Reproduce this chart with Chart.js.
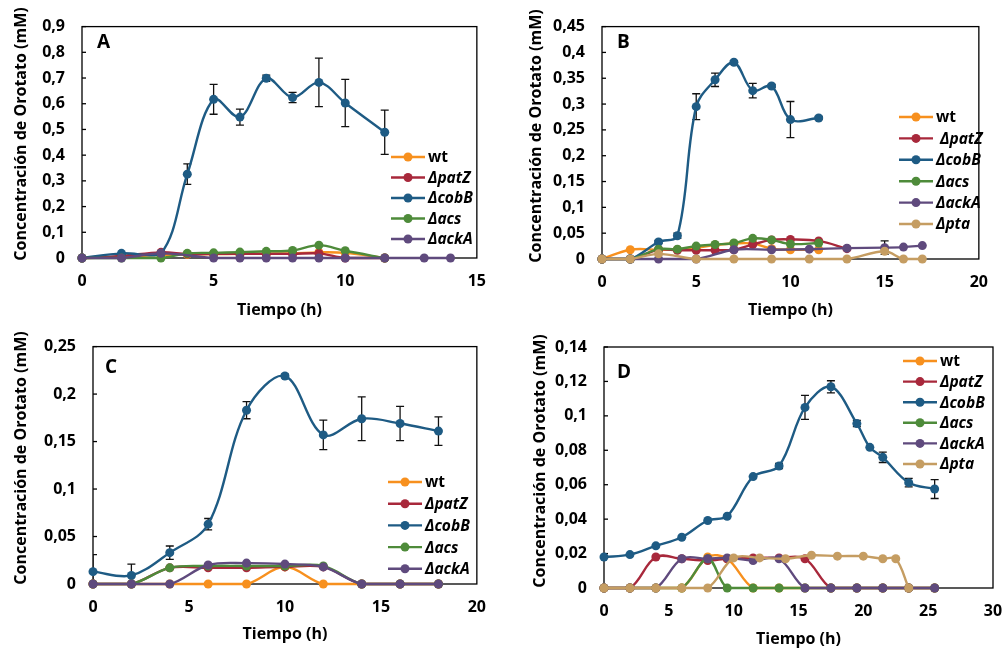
<!DOCTYPE html>
<html>
<head>
<meta charset="utf-8">
<script src="https://cdn.jsdelivr.net/npm/chart.js@4.4.0/dist/chart.umd.min.js"></script>
<style>
  html, body { margin: 0; padding: 0; background: #fff; }
  #wrap { position: relative; width: 1002px; height: 653px; overflow: hidden; }
  .panel { position: absolute; overflow: hidden; }
</style>
</head>
<body>
<div id="wrap">
  <div class="panel" style="left:0;top:0;width:500px;height:320px"><canvas id="chartA" width="500" height="320"></canvas></div>
  <div class="panel" style="left:500px;top:0;width:502px;height:320px"><canvas id="chartB" width="502" height="320"></canvas></div>
  <div class="panel" style="left:0;top:320px;width:500px;height:333px"><canvas id="chartC" width="500" height="333"></canvas></div>
  <div class="panel" style="left:500px;top:320px;width:502px;height:333px"><canvas id="chartD" width="520" height="333"></canvas></div>
</div>
<script>
// ---- Panel A ----
const tA = [0, 1.5, 3, 4, 5, 6, 7, 8, 9, 10, 11.5];
const tA_ackA = [0, 1.5, 3, 5, 6, 7, 8, 9, 10, 11.5, 13, 14];
const wtA = [0, 0.004, 0.012, 0.014, 0.015, 0.016, 0.017, 0.018, 0.022, 0.02, 0];
const patZA = [0, 0.008, 0.022, 0.016, 0.016, 0.016, 0.016, 0.016, 0.018, 0, 0];
const cobBA = [0, 0.018, 0.018, 0.326, 0.617, 0.548, 0.699, 0.624, 0.683, 0.603, 0.489];
const cobBA_err = [0, 0, 0, 0.04, 0.058, 0.031, 0.012, 0.02, 0.094, 0.092, 0.086];
const acsA = [0, 0, 0, 0.018, 0.02, 0.023, 0.026, 0.029, 0.05, 0.028, 0];
const ackAA = [0, 0, 0.018, 0, 0, 0, 0, 0, 0, 0, 0, 0];

// ---- Panel B ----
const tB = [0, 1.5, 3, 4, 5, 6, 7, 8, 9, 10, 11.5];
const tB_patZ = [0, 1.5, 3, 4, 5, 6, 7, 8, 9, 10, 11.5, 13];
const tB_late = [0, 1.5, 3, 5, 7, 9, 11, 13, 15, 16, 17];
const wtB = [0, 0.018, 0.018, 0.018, 0.022, 0.027, 0.03, 0.03, 0.02, 0.018, 0.018];
const patZB = [0, 0, 0.018, 0.017, 0.017, 0.017, 0.018, 0.028, 0.037, 0.038, 0.035, 0.02];
const cobBB = [0, 0, 0.033, 0.045, 0.295, 0.347, 0.381, 0.326, 0.335, 0.27, 0.273];
const cobBB_err = [0, 0, 0.003, 0.005, 0.025, 0.013, 0.003, 0.014, 0.003, 0.035, 0.003];
const acsB = [0, 0, 0.019, 0.019, 0.025, 0.028, 0.031, 0.04, 0.037, 0.029, 0.031];
const ackAB = [0, 0, 0, 0, 0.018, 0.018, 0.019, 0.021, 0.022, 0.023, 0.026];
const ackAB_err = [0, 0, 0, 0, 0, 0, 0, 0, 0.013, 0, 0];
const ptaB = [0, 0, 0.01, 0, 0, 0, 0, 0, 0.015, 0, 0];

// ---- Panel C ----
const tC = [0, 2, 4, 6, 8, 10, 12, 14, 16, 18];
const wtC = [0, 0, 0, 0, 0, 0.018, 0, 0, 0, 0];
const patZC = [0, 0, 0.017, 0.017, 0.017, 0.018, 0.018, 0, 0, 0];
const cobBC = [0.013, 0.009, 0.033, 0.063, 0.183, 0.219, 0.157, 0.174, 0.169, 0.161];
const cobBC_err = [0.018, 0.012, 0.007, 0.006, 0.009, 0.002, 0.0155, 0.023, 0.018, 0.015];
const acsC = [0, 0, 0.017, 0.019, 0.019, 0.019, 0.019, 0, 0, 0];
const ackAC = [0, 0, 0, 0.02, 0.022, 0.021, 0.018, 0, 0, 0];

// ---- Panel D ----
const tD = [0, 2, 4, 6, 8, 9.5, 11.5, 13.5, 15.5, 17.5, 19.5, 21.5, 23.5, 25.5];
const tD_cobB = [0, 2, 4, 6, 8, 9.5, 11.5, 13.5, 15.5, 17.5, 19.5, 20.5, 21.5, 23.5, 25.5];
const tD_pta = [0, 2, 4, 6, 8, 10, 12, 14, 16, 18, 20, 21.5, 22.5, 23.5];
const wtD = [0, 0, 0, 0, 0.018, 0.017, 0, 0, 0, 0, 0, 0, 0, 0];
const patZD = [0, 0, 0.018, 0.017, 0.016, 0.017, 0.0175, 0.0175, 0.017, 0, 0, 0, 0, 0];
const cobBD = [0.018, 0.0194, 0.0245, 0.0295, 0.0392, 0.0417, 0.0647, 0.0709, 0.1049, 0.1169, 0.0955, 0.0817, 0.0759, 0.0612, 0.0575];
const cobBD_err = [0, 0, 0, 0, 0, 0, 0, 0.0015, 0.007, 0.0035, 0.0018, 0, 0.003, 0.0025, 0.0055];
const acsD = [0, 0, 0, 0, 0.017, 0, 0, 0, 0, 0, 0, 0, 0, 0];
const ackAD = [0, 0, 0, 0.017, 0.017, 0.0175, 0.016, 0.017, 0, 0, 0, 0, 0, 0];
const ptaD = [0, 0, 0, 0, 0, 0.0175, 0.0175, 0.017, 0.019, 0.0185, 0.0185, 0.017, 0.017, 0];

const COLORS = {
    wt: '#F7901E', patZ: '#A8283B', cobB: '#1E5B84',
    acs: '#4E8B3A', ackA: '#5F4A7D', pta: '#C59D62'
};
const FONT = '"Open Sans", Lato, sans-serif';

function series(label, key, times, values, errors) {
    return {
        label: label,
        data: times.map((t, i) => ({ x: t, y: values[i] })),
        errors: errors || null,
        borderColor: COLORS[key],
        backgroundColor: COLORS[key],
        pointBackgroundColor: COLORS[key],
        pointBorderWidth: 0,
        pointRadius: 4.5,
        pointHoverRadius: 4.5,
        borderWidth: 2.4,
        tension: 0.35,
        clip: false
    };
}

// frame, inner ticks, error bars, legend, letter and y title
const decoPlugin = {
    id: 'panelDeco',
    beforeDatasetsDraw(chart, args, o) {
        const { ctx, chartArea: a, scales: { x, y } } = chart;
        ctx.save();
        ctx.strokeStyle = '#000';
        ctx.lineWidth = 1.3;
        ctx.strokeRect(a.left, a.top, a.right - a.left, a.bottom - a.top);
        y.ticks.forEach(t => {
            const py = y.getPixelForValue(t.value);
            ctx.beginPath();
            ctx.moveTo(a.left, py);
            ctx.lineTo(a.left + 4, py);
            ctx.stroke();
        });
        ctx.beginPath();
        ctx.rect(a.left, a.top - 10, a.right - a.left, a.bottom - a.top + 10);
        ctx.clip();
        ctx.strokeStyle = '#111';
        ctx.lineWidth = 1.3;
        chart.data.datasets.forEach(ds => {
            if (!ds.errors) return;
            ds.data.forEach((p, i) => {
                const e = ds.errors[i];
                if (!e) return;
                const px = x.getPixelForValue(p.x);
                const y1 = y.getPixelForValue(p.y + e);
                const y2 = y.getPixelForValue(p.y - e);
                ctx.beginPath();
                ctx.moveTo(px, y1); ctx.lineTo(px, y2);
                ctx.moveTo(px - 4, y1); ctx.lineTo(px + 4, y1);
                ctx.moveTo(px - 4, y2); ctx.lineTo(px + 4, y2);
                ctx.stroke();
            });
        });
        ctx.restore();
    },
    afterDraw(chart, args, o) {
        const ctx = chart.ctx;
        ctx.save();
        ctx.fillStyle = '#000';
        // letter
        ctx.font = 'bold 19px ' + FONT;
        ctx.textAlign = 'left';
        ctx.textBaseline = 'alphabetic';
        ctx.fillText(o.letter, o.letterX, o.letterY);
        // y title
        ctx.save();
        ctx.translate(o.yTitleX, o.yTitleY);
        ctx.rotate(-Math.PI / 2);
        ctx.font = 'bold 16px ' + FONT;
        ctx.textAlign = 'center';
        ctx.textBaseline = 'middle';
        ctx.fillText('Concentración de Orotato (mM)', 0, 0);
        ctx.restore();
        // legend
        const L = o.legend;
        chart.data.datasets.forEach((ds, i) => {
            const yy = L.y0 + i * L.dy;
            ctx.strokeStyle = ds.borderColor;
            ctx.lineWidth = 2.4;
            ctx.beginPath();
            ctx.moveTo(L.x0, yy);
            ctx.lineTo(L.x1, yy);
            ctx.stroke();
            ctx.fillStyle = ds.borderColor;
            ctx.beginPath();
            ctx.arc((L.x0 + L.x1) / 2, yy, 4.5, 0, Math.PI * 2);
            ctx.fill();
            ctx.fillStyle = '#000';
            ctx.font = (ds.label.indexOf('Δ') >= 0 ? 'italic ' : '') + 'bold 15.5px ' + FONT;
            ctx.textBaseline = 'middle';
            ctx.fillText(ds.label, L.xt, yy + 1);
        });
        ctx.restore();
    }
};

function makePanel(id, p) {
    const canvas = document.getElementById(id);
    const W = canvas.width, H = canvas.height;
    p.datasets.forEach((ds, i) => { ds.order = -i; });
    return new Chart(canvas.getContext('2d'), {
        type: 'line',
        data: { datasets: p.datasets },
        options: {
            responsive: false,
            animation: false,
            layout: { padding: { left: 0, top: p.area.t, right: W - p.area.r, bottom: 0 } },
            plugins: {
                legend: { display: false },
                tooltip: { enabled: false },
                panelDeco: p.deco
            },
            scales: {
                x: {
                    type: 'linear',
                    min: 0, max: p.xMax,
                    grid: { display: false, drawTicks: false },
                    border: { display: false },
                    ticks: { stepSize: 5, color: '#000', padding: 14, font: { family: FONT, size: 16, weight: 'bold' } },
                    title: {
                        display: true, text: 'Tiempo (h)', color: '#000',
                        padding: { top: 0, bottom: p.xTitlePad },
                        font: { family: FONT, size: 16, weight: 'bold' }
                    },
                    afterFit: s => { s.height = H - p.area.b; }
                },
                y: {
                    min: 0, max: p.yMax,
                    grid: { display: false, drawTicks: false },
                    border: { display: false },
                    ticks: {
                        stepSize: p.yStep, color: '#000', padding: 17,
                        font: { family: FONT, size: 16, weight: 'bold' },
                        callback: v => String(Math.round(v * 1000) / 1000).replace('.', ',')
                    },
                    afterFit: s => { s.width = p.area.l; }
                }
            }
        },
        plugins: [decoPlugin]
    });
}

makePanel('chartA', {
    area: { l: 82, t: 19, r: 480, b: 258 },
    xMax: 15, yMax: 0.9, yStep: 0.1, xTitlePad: 0,
    datasets: [
        series('wt', 'wt', tA, wtA),
        series('ΔpatZ', 'patZ', tA, patZA),
        series('ΔcobB', 'cobB', tA, cobBA, cobBA_err),
        series('Δacs', 'acs', tA, acsA),
        series('ΔackA', 'ackA', tA_ackA, ackAA)
    ],
    deco: {
        letter: 'A', letterX: 97, letterY: 48, yTitleX: 21, yTitleY: 134,
        legend: { x0: 391, x1: 425, xt: 428, y0: 157, dy: 20.5 }
    }
});

makePanel('chartB', {
    area: { l: 102, t: 19, r: 489, b: 259 },
    xMax: 20, yMax: 0.45, yStep: 0.05, xTitlePad: 0,
    datasets: [
        series('wt', 'wt', tB, wtB),
        series(' ΔpatZ', 'patZ', tB_patZ, patZB),
        series('ΔcobB', 'cobB', tB, cobBB, cobBB_err),
        series('Δacs', 'acs', tB, acsB),
        series('ΔackA', 'ackA', tB_late, ackAB, ackAB_err),
        series('Δpta', 'pta', tB_late, ptaB)
    ],
    deco: {
        letter: 'B', letterX: 117, letterY: 48, yTitleX: 36, yTitleY: 136,
        legend: { x0: 399, x1: 433, xt: 436, y0: 117, dy: 21.4 }
    }
});

makePanel('chartC', {
    area: { l: 93, t: 24, r: 481, b: 264 },
    xMax: 20, yMax: 0.25, yStep: 0.05, xTitlePad: 9,
    datasets: [
        series('wt', 'wt', tC, wtC),
        series('ΔpatZ', 'patZ', tC, patZC),
        series('ΔcobB', 'cobB', tC, cobBC, cobBC_err),
        series('Δacs', 'acs', tC, acsC),
        series('ΔackA', 'ackA', tC, ackAC)
    ],
    deco: {
        letter: 'C', letterX: 105, letterY: 53, yTitleX: 21, yTitleY: 138,
        legend: { x0: 388, x1: 422, xt: 425, y0: 162, dy: 21.7 }
    }
});

makePanel('chartD', {
    area: { l: 104, t: 27, r: 493, b: 268 },
    xMax: 30, yMax: 0.14, yStep: 0.02, xTitlePad: 4,
    datasets: [
        series('wt', 'wt', tD, wtD),
        series('ΔpatZ', 'patZ', tD, patZD),
        series('ΔcobB', 'cobB', tD_cobB, cobBD, cobBD_err),
        series('Δacs', 'acs', tD, acsD),
        series('ΔackA', 'ackA', tD, ackAD),
        series('Δpta', 'pta', tD_pta, ptaD)
    ],
    deco: {
        letter: 'D', letterX: 117, letterY: 58, yTitleX: 40, yTitleY: 141,
        legend: { x0: 403, x1: 437, xt: 440, y0: 41, dy: 20.6 }
    }
});
</script>
</body>
</html>
